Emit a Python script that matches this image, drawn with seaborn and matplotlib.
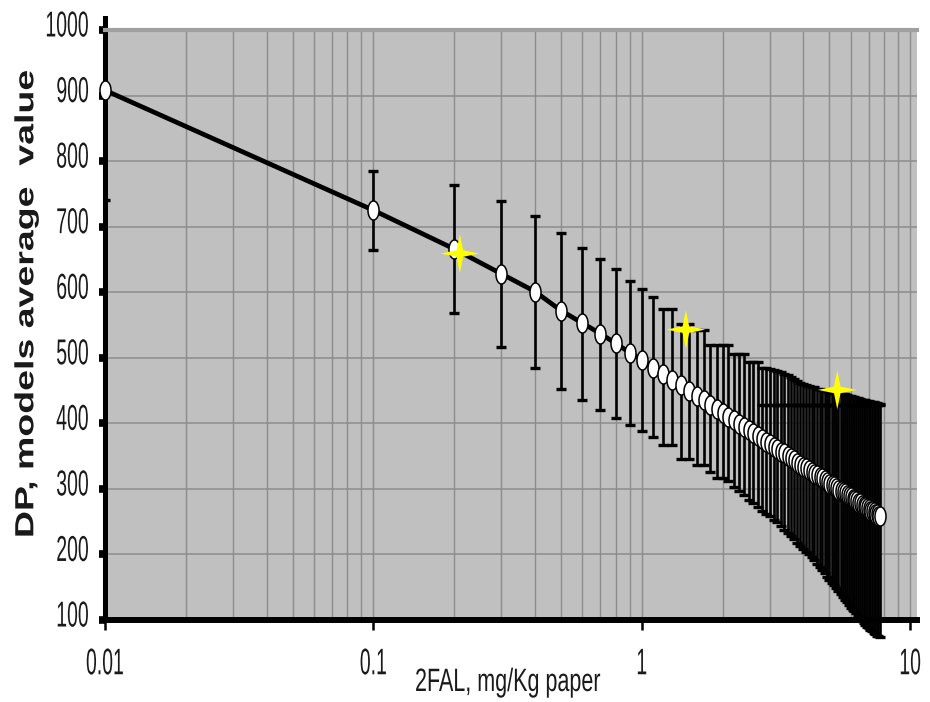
import numpy as np
import pandas as pd
import matplotlib
matplotlib.use("Agg")
import matplotlib.pyplot as plt
import seaborn as sns
from matplotlib.path import Path
from matplotlib.patheffects import AbstractPathEffect
from matplotlib.transforms import Affine2D
from matplotlib.ticker import LogLocator, NullFormatter

# ---------------------------------------------------------------- data
# 2FAL content in paper (mg/Kg)
fal_mgkg = [0.01, 0.1, 0.2, 0.3, 0.4, 0.5, 0.6, 0.7, 0.8, 0.9,
            1.0, 1.1, 1.2, 1.3, 1.4, 1.5, 1.6, 1.7, 1.8, 1.9,
            2.0, 2.1, 2.2, 2.3, 2.4, 2.5, 2.6, 2.7, 2.8, 2.9,
            3.0, 3.1, 3.2, 3.3, 3.4, 3.5, 3.6, 3.7, 3.8, 3.9,
            4.0, 4.1, 4.2, 4.3, 4.4, 4.5, 4.6, 4.7, 4.8, 4.9,
            5.0, 5.1, 5.2, 5.3, 5.4, 5.5, 5.6, 5.7, 5.8, 5.9,
            6.0, 6.1, 6.2, 6.3, 6.4, 6.5, 6.6, 6.7, 6.8, 6.9,
            7.0, 7.1, 7.2, 7.3, 7.4, 7.5, 7.6, 7.7]

# average DP over the ageing models
dp_mean = [908, 725, 666, 628, 601, 572, 553, 537, 522, 508,
           497, 485, 476, 466, 458, 450, 442, 435, 428, 422,
           416, 410, 405, 399, 394, 390, 385, 381, 376, 372,
           368, 364, 361, 357, 354, 350, 347, 344, 340, 337,
           334, 332, 329, 326, 323, 321, 318, 316, 313, 311,
           308, 306, 304, 301, 299, 297, 295, 293, 291, 289,
           287, 285, 283, 281, 279, 278, 276, 274, 272, 271,
           269, 267, 266, 264, 262, 261, 259, 258]

# lowest / highest model estimate
dp_low = [740, 664, 569, 517, 484, 453, 436, 421, 408, 397,
          388, 379, 367, 367, 345, 345, 336, 336, 326, 316,
          316, 312, 303, 297, 290, 283, 278, 272, 267, 262,
          258, 253, 249, 244, 238, 233, 228, 223, 218, 213,
          208, 204, 200, 196, 191, 186, 181, 176, 171, 166,
          161, 157, 153, 149, 144, 139, 135, 131, 127, 123,
          119, 116, 113, 110, 106, 103, 99, 96, 93, 90,
          88, 85, 83, 80, 78, 76, 75, 74]

dp_high = [1075, 785, 763, 739, 716, 690, 668, 650, 635, 617,
           605, 592, 575, 575, 552, 552, 542, 542, 519, 519,
           519, 519, 505, 505, 505, 494, 494, 494, 484, 484,
           483, 482, 480, 478, 476, 473, 470, 467, 464, 462,
           460, 459, 457, 456, 455, 453, 452, 451, 450, 449,
           448, 447, 446, 446, 445, 445, 444, 444, 443, 442,
           441, 440, 440, 439, 438, 437, 436, 436, 435, 434,
           434, 433, 432, 432, 431, 431, 430, 430]

# secondary upper limit for the high-2FAL range
fal_inner = [2.8, 2.9, 3.0, 3.1, 3.2, 3.3, 3.4, 3.5, 3.6, 3.7,
             3.8, 3.9, 4.0, 4.1, 4.2, 4.3, 4.4, 4.5, 4.6, 4.7,
             4.8, 4.9, 5.0, 5.1, 5.2, 5.3, 5.4, 5.5, 5.6, 5.7,
             5.8, 5.9, 6.0, 6.1, 6.2, 6.3, 6.4, 6.5, 6.6, 6.7,
             6.8, 6.9, 7.0, 7.1, 7.2, 7.3, 7.4, 7.5, 7.6, 7.7]
dp_inner_high = [428, 428, 428, 428, 428, 428, 428, 428, 428, 428,
                 428, 428, 428, 428, 428, 428, 428, 428, 428, 428,
                 428, 428, 428, 428, 428, 428, 428, 428, 428, 428,
                 428, 428, 428, 428, 428, 428, 428, 428, 428, 428,
                 428, 428, 428, 428, 428, 428, 428, 428, 428, 428]

# measured units
star_fal = [0.21, 1.46, 5.35]
star_dp = [659, 543, 451]

x_ticks = [0.01, 0.1, 1, 10]
x_tick_labels = ["0.01", "0.1", "1", "10"]
y_ticks = [100, 200, 300, 400, 500, 600, 700, 800, 900, 1000]
y_tick_labels = ["100", "200", "300", "400", "500", "600", "700", "800", "900", "1000"]


# ---------------------------------------------------------------- helpers
class GlyphStretch(AbstractPathEffect):
    """Scale glyph outlines perpendicular to the text direction."""

    def __init__(self, sy, cy=0.0):
        super().__init__()
        self._pre = Affine2D().translate(0, -cy).scale(1.0, sy).translate(0, cy)

    def draw_path(self, renderer, gc, tpath, affine, rgbFace=None):
        renderer.draw_path(gc, tpath, (self._pre + affine).frozen(), rgbFace)


t = np.linspace(0, 2 * np.pi, 80)
oval_marker = Path(np.column_stack([0.58 * np.cos(t), np.sin(t)]), closed=True)

# four-pointed sparkle: tips on the axes, inner corners on the diagonals
ang = np.arange(8) * np.pi / 4
rad = np.where(np.arange(8) % 2 == 0, 1.0, 0.24)
sparkle = np.column_stack([rad * np.cos(ang), rad * np.sin(ang)])
sparkle_marker = Path(np.vstack([sparkle, sparkle[:1]]), closed=True)

# ---------------------------------------------------------------- figure
plt.rcParams["font.family"] = ["Liberation Sans", "DejaVu Sans"]

fig = plt.figure(figsize=(9.3, 7.02), dpi=100)
ax = fig.add_axes([0.1129, 0.1168, 0.8731, 0.8405])
ax.set_xscale("log")
ax.set_facecolor("#c0c0c0")

x = np.asarray(fal_mgkg)
m = np.asarray(dp_mean)
lo = np.asarray(dp_low)
hi = np.asarray(dp_high)

# range bars: first point is clipped at the top of the plot
ax.errorbar(x[:1], m[:1], yerr=[m[:1] - lo[:1], hi[:1] - m[:1]], fmt="none",
            ecolor="black", elinewidth=1.9, capsize=3.6, capthick=2.4, zorder=2)
ax.errorbar(x[1:], m[1:], yerr=[m[1:] - lo[1:], hi[1:] - m[1:]], fmt="none",
            ecolor="black", elinewidth=1.9, capsize=3.6, capthick=2.4,
            zorder=2, clip_on=False)
ax.plot(fal_inner, dp_inner_high, ls="none", marker="_", ms=7.2, mew=2.4,
        color="black", zorder=2)

df = pd.DataFrame({"fal": fal_mgkg, "dp": dp_mean})
sns.lineplot(data=df, x="fal", y="dp", ax=ax, color="black", lw=3.4,
             marker=oval_marker, ms=13.7, mfc="white", mec="black", mew=1.1,
             sort=False, errorbar=None, zorder=3, clip_on=False)

stars = pd.DataFrame({"fal": star_fal, "dp": star_dp})
sns.scatterplot(data=stars, x="fal", y="dp", ax=ax, marker=sparkle_marker,
                s=780, color="#ffff00", edgecolor="none", linewidth=0,
                zorder=4, clip_on=False)

ax.set_xlim(0.01, 10.6)
ax.set_ylim(100, 1000)

# grid
ax.xaxis.set_minor_locator(LogLocator(base=10, subs=np.arange(2, 10)))
ax.xaxis.set_minor_formatter(NullFormatter())
ax.set_axisbelow(True)
ax.grid(True, which="both", axis="x", color="#8c8c8c", lw=1.0)
ax.grid(True, which="major", axis="y", color="#8c8c8c", lw=1.1)

# ticks
ax.set_xticks(x_ticks, labels=x_tick_labels)
ax.set_yticks(y_ticks, labels=y_tick_labels)
ax.tick_params(axis="y", which="major", direction="out", length=4, width=5.5,
               color="black", pad=7.6, labelsize=14, labelcolor="#1a1a1a")
ax.tick_params(axis="x", which="major", direction="out", length=7.5, width=1.8,
               color="black", pad=13, labelsize=14, labelcolor="#1a1a1a")
ax.tick_params(axis="x", which="minor", length=0)
for lbl in ax.get_yticklabels():
    lbl.set_path_effects([GlyphStretch(1.85, 0.0)])
for lbl in ax.get_xticklabels():
    lbl.set_path_effects([GlyphStretch(1.9, 73.0)])

# spines
ax.spines["right"].set_visible(False)
ax.spines["top"].set_color("#a0a0a0")
ax.spines["top"].set_linewidth(3.0)
ax.spines["left"].set_color("black")
ax.spines["left"].set_linewidth(3.6)
ax.spines["left"].set_bounds(100, 1018)
ax.spines["bottom"].set_color("black")
ax.spines["bottom"].set_linewidth(4.3)

# axis titles
ax.set_xlabel("2FAL, mg/Kg paper", fontsize=15.5, color="#1a1a1a")
ax.xaxis.label.set(ha="left", va="baseline")
ax.xaxis.set_label_coords(0.3818, -0.1203)
ax.xaxis.label.set_path_effects([GlyphStretch(1.5, 0.0)])

ax.set_ylabel("DP, models average  value", fontsize=27, fontweight="bold",
              color="#1a1a1a")
ax.yaxis.label.set(ha="center", va="baseline", rotation_mode="anchor")
ax.yaxis.set_label_coords(-0.0883, 0.5356)
ax.yaxis.label.set_path_effects([GlyphStretch(0.7, 0.0)])

fig.savefig("out.png", dpi=100)
